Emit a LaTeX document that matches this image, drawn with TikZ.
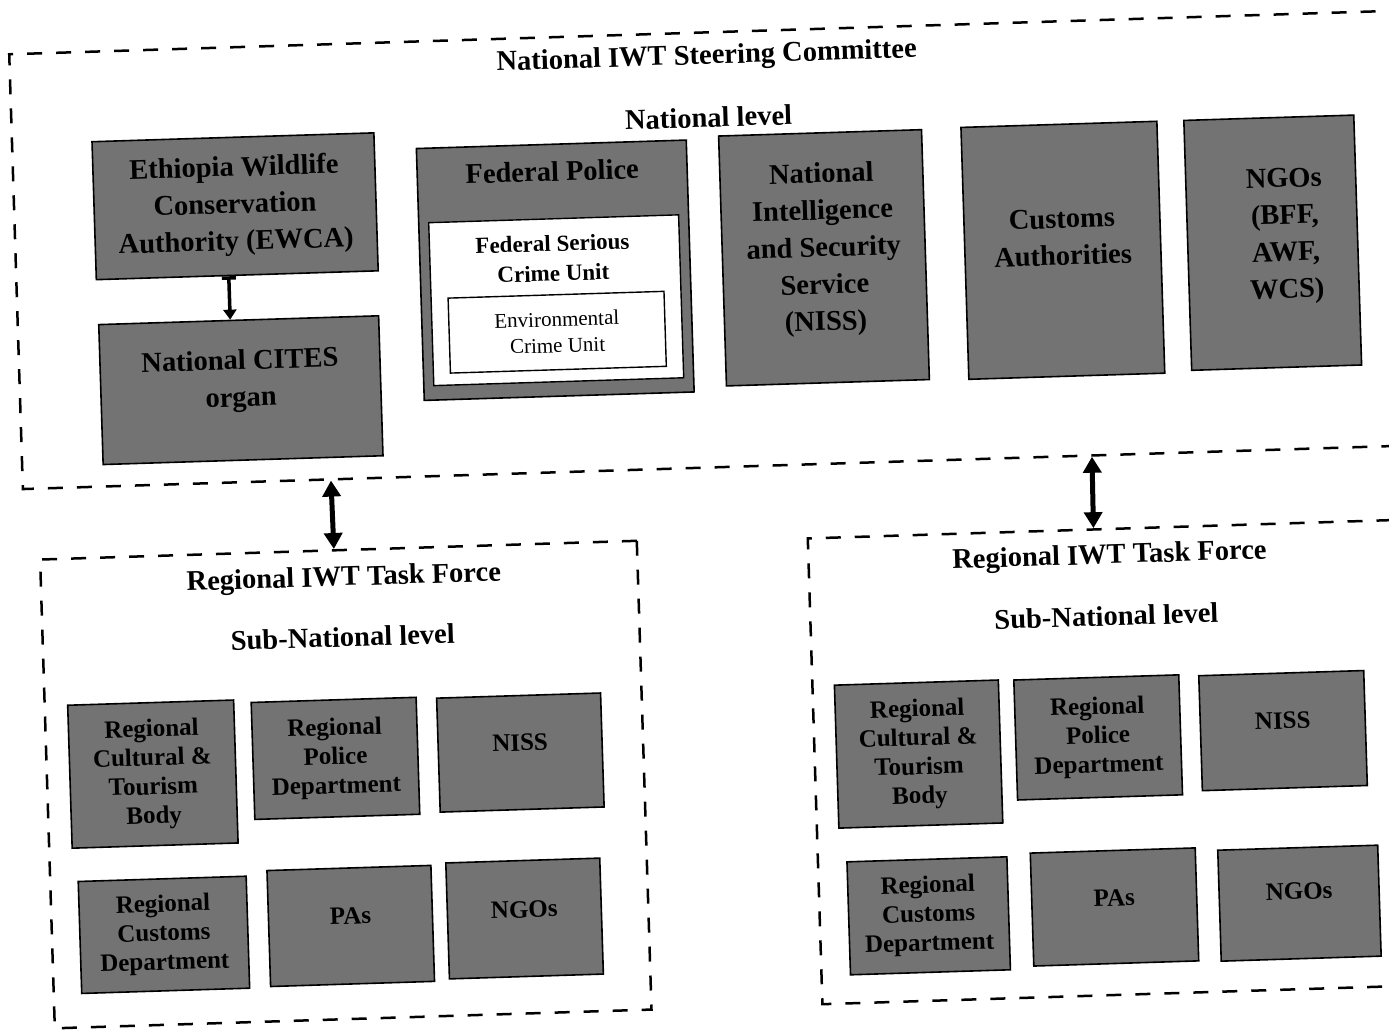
\documentclass[tikz,border=0pt]{standalone}
\usepackage{fontspec}
\setmainfont{Liberation Serif}
\usetikzlibrary{arrows.meta,calc}
\definecolor{boxgray}{gray}{0.45}
\begin{document}
\begin{tikzpicture}[x=1pt,y=-1pt,
 orgbox/.style={draw=black,line width=1.6pt,fill=boxgray,align=center,inner sep=0pt,font=\bfseries\fontsize{28.5}{37}\selectfont},
 regbox/.style={orgbox,font=\bfseries\fontsize{25}{29}\selectfont},
 orgtext/.style={align=center,inner sep=0pt,font=\bfseries\fontsize{28.5}{37}\selectfont},
 regtext/.style={align=center,inner sep=0pt,font=\bfseries\fontsize{25}{29}\selectfont},
 whitebox/.style={draw=black,line width=1.4pt,fill=white,inner sep=0pt},
 dashframe/.style={draw=black,line width=2.5pt,dash pattern=on 15pt off 14pt,inner sep=0pt},
 headtext/.style={font=\bfseries\fontsize{28.5}{34}\selectfont,inner sep=0pt},
 twoway/.style={line width=5pt,{Triangle[width=18pt,length=16pt]}-{Triangle[width=18pt,length=16pt]}},
]
\useasboundingbox (0,0) rectangle (1389,1030);
\clip (0,0) rectangle (1389,1030);
\begin{scope}[rotate around={1.8:(694,515)},transform shape]
% frames
\node[dashframe,minimum width=1396pt,minimum height=435pt] (nat) at (722,250.5) {};
\node[dashframe,minimum width=597pt,minimum height=469pt] (lf) at (337.5,773.5) {};
\node[dashframe,minimum width=613pt,minimum height=466pt] (rf) at (1113.5,775) {};
% titles
\node[headtext] (natt) at (721,58) {National IWT Steering Committee};
\node[headtext] (natl) at (721,118) {National level};
\node[headtext] (lft) at (342,568) {Regional IWT Task Force};
\node[headtext] (lfl) at (339,626) {Sub-National level};
\node[headtext] (rft) at (1108,570) {Regional IWT Task Force};
\node[headtext] (rfl) at (1103,629) {Sub-National level};
% national boxes
\node[orgbox,minimum width=282pt,minimum height=138pt] (ewca) at (245,192) {Ethiopia Wildlife\\Conservation\\Authority (EWCA)};
\node[orgbox,minimum width=280pt,minimum height=140pt] (cites) at (245,376) {};
\node[orgtext] (citest) at (245,367) {National CITES\\organ};
\node[orgbox,minimum width=270pt,minimum height=252pt] (fp) at (563,266) {};
\node[headtext] (fpt) at (563,167) {Federal Police};
\node[whitebox,minimum width=250pt,minimum height=163pt] (fscu) at (563,296) {};
\node[font=\bfseries\fontsize{23}{30}\selectfont,align=center,inner sep=0pt] (fscut) at (561,254) {Federal Serious\\Crime Unit};
\node[whitebox,minimum width=216pt,minimum height=75pt,align=center,font=\fontsize{21}{26}\selectfont] (ecu) at (563,328) {Environmental\\Crime Unit};
\node[orgbox,minimum width=203pt,minimum height=250pt] (niss) at (832,262) {};
\node[orgtext] (nisst) at (832,254) {National\\Intelligence\\and Security\\Service\\(NISS)};
\node[orgbox,minimum width=196pt,minimum height=252pt] (cust) at (1071,262) {};
\node[orgtext] (custt) at (1071,249) {Customs\\Authorities};
\node[orgbox,minimum width=170pt,minimum height=250pt] (ngo) at (1281,261) {};
\node[orgtext] (ngot) at (1294,255) {NGOs\\(BFF,\\AWF,\\WCS)};
% left regional boxes
\node[regbox,minimum width=166pt,minimum height=143pt] (l1) at (145,757) {Regional\\Cultural \&\\Tourism\\Body};
\node[regbox,minimum width=165pt,minimum height=117pt] (l2) at (328,747) {Regional\\Police\\Department};
\node[regbox,minimum width=164pt,minimum height=114pt] (l3) at (513,747) {};
\node[regtext] (l3t) at (513,737) {NISS};
\node[regbox,minimum width=168pt,minimum height=112pt] (l4) at (151,918) {Regional\\Customs\\Department};
\node[regbox,minimum width=164pt,minimum height=116pt] (l5) at (338,915) {};
\node[regtext] (l5t) at (338,905) {PAs};
\node[regbox,minimum width=154pt,minimum height=116pt] (l6) at (512,913) {};
\node[regtext] (l6t) at (512,904) {NGOs};
% right regional boxes
\node[regbox,minimum width=164pt,minimum height=143pt] (r1) at (911,761) {Regional\\Cultural \&\\Tourism\\Body};
\node[regbox,minimum width=165pt,minimum height=120pt] (r2) at (1091,750) {Regional\\Police\\Department};
\node[regbox,minimum width=165pt,minimum height=115pt] (r3) at (1276,749) {};
\node[regtext] (r3t) at (1276,739) {NISS};
\node[regbox,minimum width=160pt,minimum height=113pt] (r4) at (916,923) {Regional\\Customs\\Department};
\node[regbox,minimum width=165pt,minimum height=113pt] (r5) at (1102,920) {};
\node[regtext] (r5t) at (1102,911) {PAs};
\node[regbox,minimum width=160pt,minimum height=111pt] (r6) at (1287,922) {};
\node[regtext] (r6t) at (1287,910) {NGOs};
% connectors
\draw[line width=3.5pt,{Bar[width=14pt]}-{Triangle[width=13pt,length=10pt]}]
  ($(ewca.south west)!0.47!(ewca.south east)$) -- ($(cites.north west)!0.47!(cites.north east)$);
\draw[twoway] ($(nat.south west)!0.2213!(nat.south east)$) -- ($(lf.north west)!0.4925!(lf.north east)$);
\draw[twoway] ($(nat.south west)!0.7658!(nat.south east)$) -- ($(rf.north west)!0.4666!(rf.north east)$);
\end{scope}
\end{tikzpicture}
\end{document}
